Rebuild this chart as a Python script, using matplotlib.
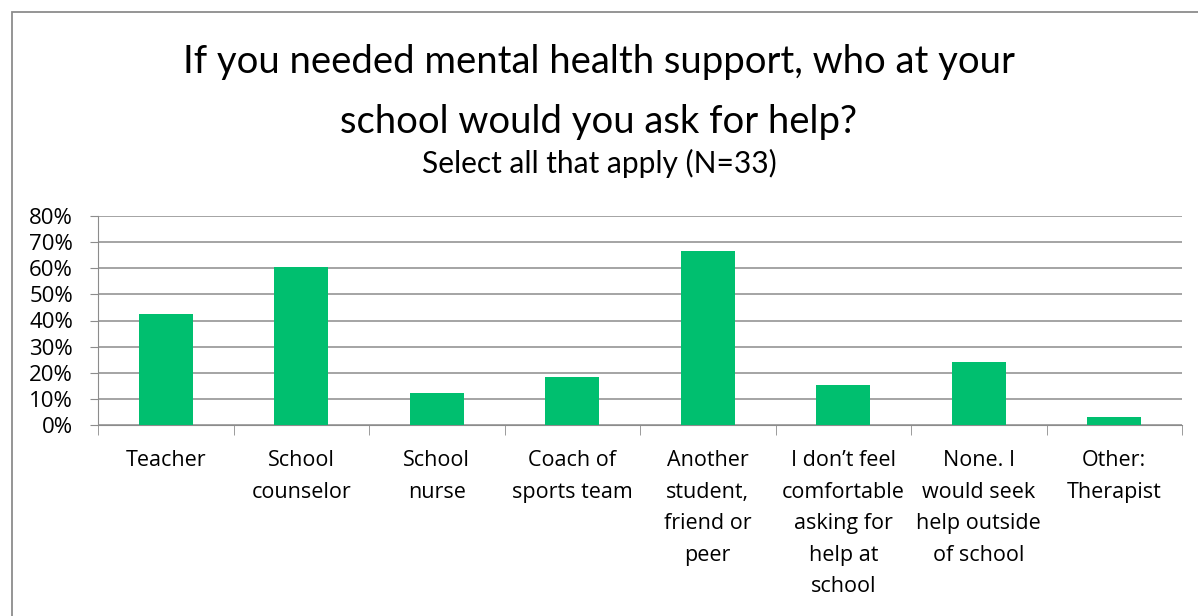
import matplotlib
matplotlib.use("Agg")
import matplotlib.pyplot as plt
from matplotlib.patches import Rectangle
from matplotlib.ticker import MultipleLocator, FuncFormatter, FixedLocator

# survey answers, N=33, share of respondents
categories = ["Teacher", "School\ncounselor", "School\nnurse", "Coach of\nsports team",
              "Another\nstudent,\nfriend or\npeer", "I don\u2019t feel\ncomfortable\nasking for\nhelp at\nschool",
              "None. I\nwould seek\nhelp outside\nof school", "Other:\nTherapist"]
shares = [0.424, 0.606, 0.121, 0.182, 0.667, 0.152, 0.242, 0.030]

fig = plt.figure(figsize=(11.98, 6.16), dpi=100)
# outer chart frame
fig.patches.append(Rectangle((12/1198, -0.1), 1.2, 1 - 12/616 + 0.1, transform=fig.transFigure,
                             fill=False, edgecolor="#8c8c8c", linewidth=1.3))

ax = fig.add_axes([98/1198, 1 - 425/616, 1084/1198, 209/616])
x = range(len(categories))
ax.bar(x, shares, width=0.4, color="#00bf6f", zorder=3)

ax.set_xlim(-0.5, len(categories) - 0.5)
ax.set_ylim(0, 0.8)
ax.yaxis.set_major_locator(MultipleLocator(0.1))
ax.yaxis.set_major_formatter(FuncFormatter(lambda v, p: f"{v*100:.0f}%"))
ax.grid(axis="y", color="#8c8c8c", linewidth=1.1, zorder=0)
for s in ["top", "right"]:
    ax.spines[s].set_visible(False)
ax.spines["left"].set_color("#8c8c8c")
ax.spines["bottom"].set_color("#8c8c8c")
ax.tick_params(axis="y", length=6, color="#8c8c8c", labelsize=16, pad=12)
ax.tick_params(axis="x", which="major", length=0, labelsize=15.5, pad=18)
ax.tick_params(axis="x", which="minor", length=7, color="#8c8c8c")
ax.set_xticks(list(x))
ax.set_xticklabels(categories, fontfamily="Open Sans", linespacing=1.66)
ax.xaxis.set_minor_locator(FixedLocator([i - 0.5 for i in range(len(categories) + 1)]))
for lab in ax.get_yticklabels():
    lab.set_fontfamily("Open Sans")

fig.text(0.5, 1 - 62/616, "If you needed mental health support, who at your",
         ha="center", va="center", fontsize=27.5, fontfamily="Lato")
fig.text(0.5, 1 - 122/616, "school would you ask for help?",
         ha="center", va="center", fontsize=27.5, fontfamily="Lato")
fig.text(0.5, 1 - 163/616, "Select all that apply (N=33)",
         ha="center", va="center", fontsize=21.5, fontfamily="Lato")

fig.savefig("out.png", dpi=100)
